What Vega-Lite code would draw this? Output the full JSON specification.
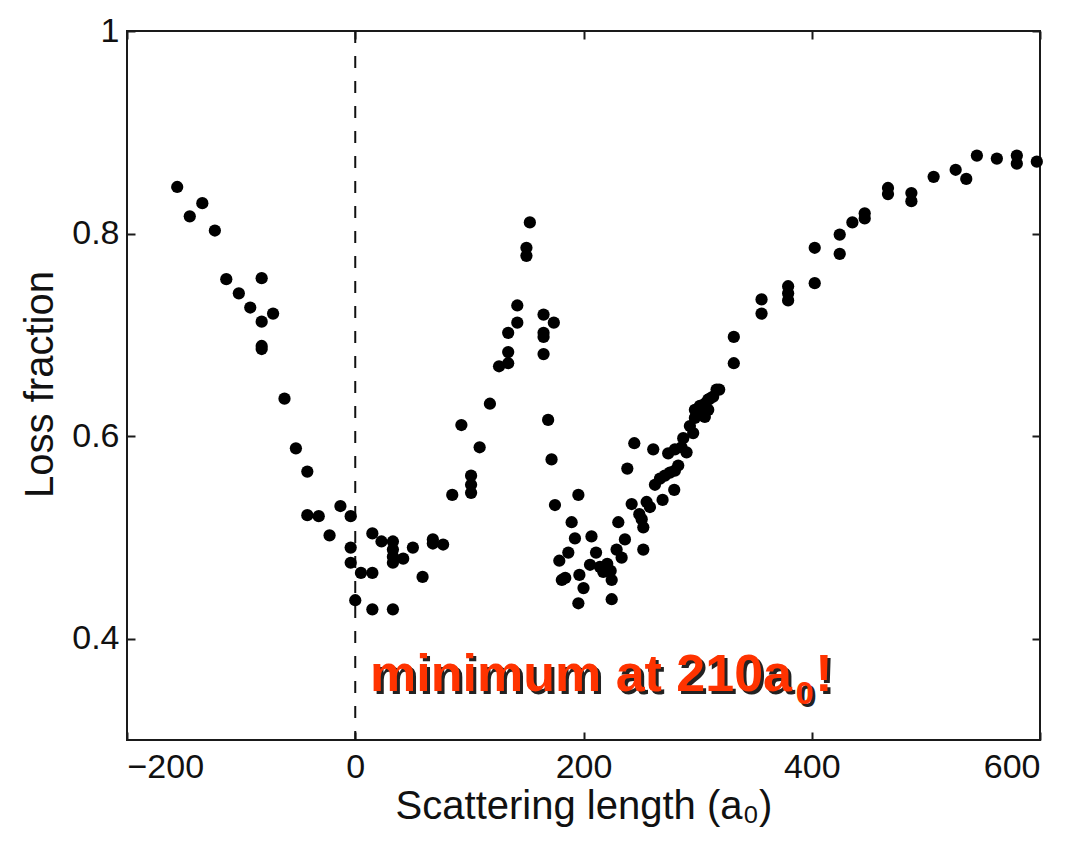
{
  "$schema": "https://vega.github.io/schema/vega-lite/v6.json",
  "width": 913,
  "height": 709,
  "autosize": "none",
  "padding": {"left": 127, "top": 31, "right": 37, "bottom": 104},
  "background": "white",
  "config": {
    "view": {"stroke": "#1a1a1a", "strokeWidth": 2},
    "axis": {
      "grid": false,
      "domain": false,
      "labelFont": "Liberation Sans",
      "labelFontSize": 34,
      "labelColor": "#111111",
      "titleFont": "Liberation Sans",
      "titleFontSize": 40,
      "titleFontWeight": "normal",
      "titleColor": "#111111",
      "tickColor": "#1a1a1a",
      "tickWidth": 2,
      "tickSize": -8
    }
  },
  "datasets": {
    "points": [
      {"a": -156, "loss": 0.846}, {"a": -145, "loss": 0.817}, {"a": -134, "loss": 0.830}, {"a": -123, "loss": 0.803},
      {"a": -113, "loss": 0.755}, {"a": -102, "loss": 0.741}, {"a": -92, "loss": 0.727}, {"a": -82, "loss": 0.756},
      {"a": -82, "loss": 0.713}, {"a": -72, "loss": 0.721}, {"a": -82, "loss": 0.689}, {"a": -82, "loss": 0.686},
      {"a": -62, "loss": 0.637}, {"a": -52, "loss": 0.588}, {"a": -42, "loss": 0.565}, {"a": -42, "loss": 0.522},
      {"a": -32, "loss": 0.521}, {"a": -22.5, "loss": 0.502}, {"a": -13, "loss": 0.531}, {"a": -4, "loss": 0.521},
      {"a": -4, "loss": 0.490}, {"a": -4, "loss": 0.475}, {"a": 0, "loss": 0.438}, {"a": 5, "loss": 0.465},
      {"a": 15, "loss": 0.465}, {"a": 15, "loss": 0.429}, {"a": 33, "loss": 0.429}, {"a": 15, "loss": 0.504},
      {"a": 23, "loss": 0.496}, {"a": 33, "loss": 0.496}, {"a": 33, "loss": 0.488}, {"a": 33, "loss": 0.481},
      {"a": 33, "loss": 0.475}, {"a": 42, "loss": 0.479}, {"a": 50.5, "loss": 0.490}, {"a": 59, "loss": 0.461},
      {"a": 68, "loss": 0.498}, {"a": 68, "loss": 0.494}, {"a": 77, "loss": 0.493}, {"a": 85, "loss": 0.542},
      {"a": 93, "loss": 0.611}, {"a": 101.5, "loss": 0.561}, {"a": 101.5, "loss": 0.552}, {"a": 101.5, "loss": 0.544},
      {"a": 109, "loss": 0.589}, {"a": 118, "loss": 0.632}, {"a": 126, "loss": 0.669}, {"a": 134, "loss": 0.672},
      {"a": 134, "loss": 0.683}, {"a": 134, "loss": 0.702}, {"a": 142, "loss": 0.712}, {"a": 142, "loss": 0.729},
      {"a": 150, "loss": 0.778}, {"a": 150, "loss": 0.786}, {"a": 153, "loss": 0.811}, {"a": 165, "loss": 0.720},
      {"a": 174, "loss": 0.712}, {"a": 165, "loss": 0.702}, {"a": 165, "loss": 0.698}, {"a": 165, "loss": 0.681},
      {"a": 169, "loss": 0.616}, {"a": 172, "loss": 0.577}, {"a": 175, "loss": 0.532},
      {"a": 195.5, "loss": 0.542}, {"a": 189.6, "loss": 0.515}, {"a": 192.5, "loss": 0.499}, {"a": 207, "loss": 0.501},
      {"a": 186.7, "loss": 0.485}, {"a": 178.8, "loss": 0.477}, {"a": 181, "loss": 0.458}, {"a": 184, "loss": 0.460},
      {"a": 196.4, "loss": 0.463}, {"a": 200, "loss": 0.450}, {"a": 195.5, "loss": 0.435}, {"a": 211, "loss": 0.485},
      {"a": 205.7, "loss": 0.473}, {"a": 214.4, "loss": 0.471}, {"a": 217.3, "loss": 0.466}, {"a": 220.8, "loss": 0.474},
      {"a": 223.8, "loss": 0.467}, {"a": 224.7, "loss": 0.458}, {"a": 224.7, "loss": 0.439}, {"a": 229, "loss": 0.488},
      {"a": 233.4, "loss": 0.480}, {"a": 230.5, "loss": 0.515}, {"a": 236.3, "loss": 0.498}, {"a": 238.4, "loss": 0.568},
      {"a": 244.5, "loss": 0.593}, {"a": 252.4, "loss": 0.488}, {"a": 242.2, "loss": 0.533}, {"a": 248.9, "loss": 0.523},
      {"a": 251, "loss": 0.518}, {"a": 252.4, "loss": 0.510}, {"a": 255.3, "loss": 0.535}, {"a": 258.2, "loss": 0.530},
      {"a": 261.1, "loss": 0.587}, {"a": 269.3, "loss": 0.537}, {"a": 279.5, "loss": 0.547}, {"a": 262.6, "loss": 0.552},
      {"a": 267, "loss": 0.558}, {"a": 271.3, "loss": 0.561}, {"a": 275.7, "loss": 0.564}, {"a": 280.1, "loss": 0.566},
      {"a": 283, "loss": 0.571}, {"a": 274.2, "loss": 0.583}, {"a": 280.1, "loss": 0.587}, {"a": 285.9, "loss": 0.589},
      {"a": 290.3, "loss": 0.584}, {"a": 287.4, "loss": 0.598}, {"a": 293.2, "loss": 0.610}, {"a": 296.1, "loss": 0.603},
      {"a": 297.6, "loss": 0.618}, {"a": 297.6, "loss": 0.626}, {"a": 302, "loss": 0.630}, {"a": 303.4, "loss": 0.621},
      {"a": 306.3, "loss": 0.619}, {"a": 306.3, "loss": 0.632}, {"a": 309.3, "loss": 0.626}, {"a": 309.3, "loss": 0.636},
      {"a": 310.7, "loss": 0.637}, {"a": 313.6, "loss": 0.639}, {"a": 316.6, "loss": 0.646}, {"a": 318.9, "loss": 0.646},
      {"a": 331.7, "loss": 0.698}, {"a": 331.7, "loss": 0.672}, {"a": 356, "loss": 0.735}, {"a": 356, "loss": 0.721},
      {"a": 379.3, "loss": 0.748}, {"a": 379.3, "loss": 0.741}, {"a": 379.3, "loss": 0.734}, {"a": 402.6, "loss": 0.751},
      {"a": 402.6, "loss": 0.786}, {"a": 424.5, "loss": 0.799}, {"a": 424.5, "loss": 0.780}, {"a": 435.6, "loss": 0.811},
      {"a": 446.4, "loss": 0.820}, {"a": 446.4, "loss": 0.815}, {"a": 466.8, "loss": 0.845}, {"a": 466.8, "loss": 0.839},
      {"a": 487.3, "loss": 0.840}, {"a": 487.3, "loss": 0.832}, {"a": 506.8, "loss": 0.856}, {"a": 526.1, "loss": 0.863},
      {"a": 535.4, "loss": 0.854}, {"a": 544.7, "loss": 0.877}, {"a": 562.2, "loss": 0.874}, {"a": 579.7, "loss": 0.877},
      {"a": 579.7, "loss": 0.869}, {"a": 597.2, "loss": 0.871}
    ],
    "zero": [{"a": 0}],
    "noteBig": [
      {"a": 13, "loss": 0.3485, "label": "minimum at 210a"},
      {"a": 403, "loss": 0.3485, "label": "!"}
    ],
    "noteSub": [
      {"a": 386, "loss": 0.3356, "label": "0"}
    ]
  },
  "resolve": {"axis": {"x": "independent", "y": "independent"}},
  "layer": [
    {
      "data": {"name": "zero"},
      "mark": {"type": "rule", "color": "#111111", "strokeWidth": 2, "strokeDash": [12, 13]},
      "encoding": {
        "x": {
          "field": "a", "type": "quantitative",
          "scale": {"domain": [-200, 600], "nice": false, "zero": false},
          "axis": {"orient": "bottom", "values": [-200, 0, 200, 400, 600], "labelPadding": 18, "title": "Scattering length (a₀)", "titleY": 78, "titleBaseline": "alphabetic"}
        }
      }
    },
    {
      "data": {"name": "points"},
      "mark": {"type": "circle", "color": "#000000", "opacity": 1, "size": 150},
      "encoding": {
        "x": {"field": "a", "type": "quantitative", "scale": {"domain": [-200, 600], "nice": false, "zero": false}, "axis": null},
        "y": {
          "field": "loss", "type": "quantitative",
          "scale": {"domain": [0.3, 1], "nice": false, "zero": false},
          "axis": {"orient": "left", "values": [0.4, 0.6, 0.8, 1], "format": "~g", "labelPadding": 16, "title": "Loss fraction", "titleX": -75, "titleY": 353, "titleAngle": -90, "titleAlign": "center", "titleBaseline": "alphabetic"}
        }
      }
    },
    {
      "data": {"name": "noteBig"},
      "mark": {"type": "text", "align": "left", "baseline": "alphabetic", "font": "Liberation Sans", "fontWeight": "bold", "fontSize": 52, "fill": "#222222", "dx": 3, "dy": 3},
      "encoding": {
        "x": {"field": "a", "type": "quantitative", "axis": {"orient": "top", "values": [-200, 0, 200, 400, 600], "labels": false, "title": null}},
        "y": {"field": "loss", "type": "quantitative", "axis": {"orient": "right", "values": [0.4, 0.6, 0.8, 1], "labels": false, "title": null}},
        "text": {"field": "label"}
      }
    },
    {
      "data": {"name": "noteBig"},
      "mark": {"type": "text", "align": "left", "baseline": "alphabetic", "font": "Liberation Sans", "fontWeight": "bold", "fontSize": 52, "fill": "#ff3300"},
      "encoding": {
        "x": {"field": "a", "type": "quantitative", "axis": null},
        "y": {"field": "loss", "type": "quantitative", "axis": null},
        "text": {"field": "label"}
      }
    },
    {
      "data": {"name": "noteSub"},
      "mark": {"type": "text", "align": "left", "baseline": "alphabetic", "font": "Liberation Sans", "fontWeight": "bold", "fontSize": 32, "fill": "#222222", "dx": 3, "dy": 3},
      "encoding": {
        "x": {"field": "a", "type": "quantitative", "axis": null},
        "y": {"field": "loss", "type": "quantitative", "axis": null},
        "text": {"field": "label"}
      }
    },
    {
      "data": {"name": "noteSub"},
      "mark": {"type": "text", "align": "left", "baseline": "alphabetic", "font": "Liberation Sans", "fontWeight": "bold", "fontSize": 32, "fill": "#ff3300"},
      "encoding": {
        "x": {"field": "a", "type": "quantitative", "axis": null},
        "y": {"field": "loss", "type": "quantitative", "axis": null},
        "text": {"field": "label"}
      }
    }
  ]
}
